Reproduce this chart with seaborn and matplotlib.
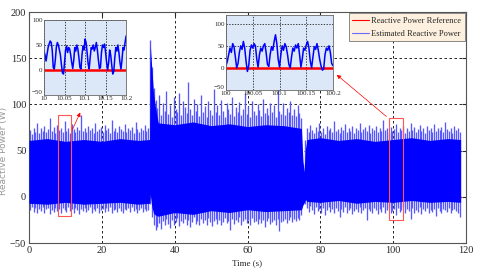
import numpy as np
import pandas as pd
import matplotlib
matplotlib.use('Agg')
import matplotlib.pyplot as plt
import seaborn as sns
from matplotlib.patches import Rectangle
from matplotlib.lines import Line2D

sns.set_style('white')
plt.rcParams['font.family'] = ['Liberation Serif', 'DejaVu Serif']

# dark core of the estimated reactive power (envelope breakpoints)
t_core = [0, 5, 10, 15, 20, 25, 30, 33.1, 33.3, 33.7, 34.2, 34.8, 35.5, 40, 45, 50, 55, 60, 65, 70,
          74.8, 75.2, 75.5, 75.9, 76.3, 80, 85, 90, 95, 100, 105, 110, 115, 118.5]
hi_core = [61, 63, 60, 62, 60, 63, 61, 62, 165, 140, 112, 95, 80, 78, 81, 77, 79, 76, 78, 77,
           74, 40, 27, 52, 62, 64, 61, 63, 60, 62, 64, 61, 63, 62]
lo_core = [-7, -8, -6, -8, -7, -6, -8, -7, 3, -10, -18, -20, -21, -17, -19, -15, -17, -14, -16, -15,
           -14, -9, -7, -3, -5, -6, -4, -7, -5, -6, -4, -6, -5, -6]

# spikes every 0.5 s (upper / lower)
up_pk1 = [72, 68, 75, 70, 80, 69, 74, 71, 77, 70,
          73, 85, 71, 76, 69, 78, 72, 74, 70, 82,
          71, 75, 69, 79, 73, 70, 76, 72, 88, 71,
          74, 70, 77, 72, 75, 69, 80, 71, 73, 76,
          70, 78, 72, 74, 69, 83, 71, 75, 70, 77,
          73, 71, 79, 70, 74, 72, 76, 69, 81, 73,
          70, 75, 72, 78, 71, 74]
up_pk2 = [170, 140, 118, 105, 96, 110, 88, 102, 93, 115,
          90, 99, 86, 108, 95, 92, 112, 89, 104, 97,
          91, 124, 95, 88, 106, 93, 100, 87, 110, 92,
          98, 86, 104, 94, 89, 117, 92, 99, 88, 105,
          93, 86, 101, 95, 90, 108, 87, 97, 92, 103,
          88, 95, 112, 90, 98, 86, 104, 93, 89, 100,
          94, 87, 106, 91, 96, 88, 102, 92, 99, 86,
          118, 93, 90, 101, 88, 96, 92, 104, 89, 95,
          87, 99, 91, 85]
up_pk3 = [35, 62, 74, 70, 78, 72, 69, 76, 71, 80,
          70, 74, 68, 77, 72, 75, 70, 82, 71, 73,
          69, 76, 72, 79, 70, 74, 71, 77, 69, 75,
          72, 80, 70, 73, 76, 71, 78, 69, 74, 72,
          77, 70, 75, 71, 83, 72, 74, 69, 76, 71,
          73, 79, 70, 75, 72, 77, 69, 74, 71, 80,
          72, 76, 70, 73, 78, 71, 74, 69, 77, 72,
          75, 70, 79, 71, 74, 72, 76, 70, 81, 73,
          71, 75, 69, 77, 72, 74, 70]
lo_pk1 = [-14, -11, -16, -12, -18, -13, -15, -11, -17, -13,
          -12, -19, -14, -16, -12, -15, -13, -18, -12, -14,
          -16, -11, -15, -13, -17, -12, -14, -19, -13, -15,
          -12, -16, -14, -11, -17, -13, -15, -12, -18, -14,
          -13, -16, -12, -15, -11, -17, -14, -13, -16, -12,
          -15, -18, -13, -14, -12, -16, -11, -15, -13, -17,
          -14, -12, -16, -13, -15, -14]
lo_pk2 = [-8, -22, -30, -36, -33, -28, -35, -26, -31, -24,
          -29, -34, -25, -30, -27, -23, -32, -26, -28, -24,
          -30, -25, -33, -27, -22, -29, -26, -31, -24, -28,
          -25, -30, -23, -27, -32, -26, -24, -29, -25, -31,
          -27, -23, -28, -26, -36, -24, -29, -25, -27, -22,
          -30, -26, -24, -28, -25, -31, -23, -27, -26, -29,
          -24, -28, -25, -33, -26, -23, -29, -27, -25, -30,
          -24, -37, -27, -26, -24, -28, -25, -22, -27, -24,
          -26, -23, -25, -20]
lo_pk3 = [5, -8, -12, -16, -10, -14, -19, -11, -15, -13,
          -17, -12, -20, -14, -11, -16, -13, -18, -12, -15,
          -22, -13, -16, -11, -17, -14, -12, -19, -15, -13,
          -16, -11, -18, -14, -12, -25, -13, -15, -17, -12,
          -14, -19, -13, -16, -11, -18, -14, -12, -17, -15,
          -13, -20, -12, -16, -14, -11, -18, -13, -15, -24,
          -12, -17, -14, -16, -11, -19, -13, -15, -12, -18,
          -14, -16, -13, -21, -12, -15, -17, -13, -14, -16,
          -12, -18, -14, -13, -15, -17, -22]
t_pk = np.arange(0.25, 118.5, 0.5)
up_pk = up_pk1 + up_pk2 + up_pk3
lo_pk = lo_pk1 + lo_pk2 + lo_pk3

ref_t = [0, 118.5]
ref_val = [0, 0]

# zoomed windows
t_in1 = np.linspace(10.0, 10.2, 81)
q_in1 = [37, 30, 18, 32, 45, 52, 58, 55, 40, 5,
         2, 20, 45, 55, 50, 40, 30, 10, -6, -8,
         15, 40, 48, 35, 45, 42, 30, 15, 3, 20,
         45, 38, 50, 42, 25, 5, 2, 30, 48, 40,
         62, 55, 35, 12, 2, 25, 45, 42, 50, 38,
         45, 55, 40, 20, 3, 5, 35, 50, 45, 52,
         35, 15, 0, 15, 40, 30, 10, -8, -3, 25,
         45, 38, 50, 35, 15, 2, 20, 45, 40, 55, 68]
t_in2 = np.linspace(100.0, 100.2, 81)
q_in2 = [5, 15, 30, 45, 35, 55, 48, 25, 0, 10,
         35, 50, 42, 60, 45, 15, -8, 5, 40, 52,
         45, 55, 50, 20, 2, 30, 45, 38, 50, 55,
         35, 8, 3, 30, 48, 40, 60, 75, 55, 20,
         2, 30, 50, 40, 55, 48, 30, 8, 0, 25,
         45, 38, 52, 45, 55, 30, 2, 20, 45, 40,
         52, 60, 45, 15, 0, 25, 48, 42, 55, 40,
         20, 5, -5, -3, 30, 45, 40, 50, 35, 10, 5]

fig = plt.figure(figsize=(4.8, 2.71), dpi=100)
ax = fig.add_axes([0.0604, 0.1033, 0.9106, 0.8524])

ax.grid(True, color='black', linestyle=(0, (3, 3)), linewidth=0.6)
ax.set_axisbelow(True)
sns.lineplot(x=ref_t, y=ref_val, color='red', lw=1.0, ax=ax, zorder=1)
ax.vlines(t_pk, lo_pk, up_pk, colors='#5858ff', lw=0.95, zorder=2)
ax.fill_between(t_core, lo_core, hi_core, color='blue', lw=0, zorder=3)

ax.set_xlim(0, 120)
ax.set_ylim(-50, 200)
ax.set_xticks(range(0, 121, 20))
ax.set_yticks(range(-50, 201, 50))
ax.tick_params(direction='in', length=3, labelsize=7.5, top=True, right=True, pad=2)
for s in ax.spines.values():
    s.set_color('#555555')
    s.set_linewidth(0.8)
ax.set_xlabel('Time (s)', fontsize=6.5, labelpad=3)
ax.set_ylabel('Reactive Power (W)', fontsize=6.5, color='#999999', family=['DejaVu Sans'])
ax.yaxis.set_label_coords(-0.048, 0.4)

ax.add_patch(Rectangle((8, -21), 3.6, 109, fill=False, ec='#ff5555', lw=0.8, zorder=5))
ax.add_patch(Rectangle((98.8, -25), 3.8, 110, fill=False, ec='#ff5555', lw=0.8, zorder=5))
ax.annotate('', xy=(14.4, 94), xytext=(11.6, 70),
            arrowprops=dict(arrowstyle='-|>', color='red', lw=0.5, mutation_scale=6), zorder=6)
ax.annotate('', xy=(83.9, 134), xytext=(98.7, 85),
            arrowprops=dict(arrowstyle='-|>', color='red', lw=0.5, mutation_scale=6), zorder=6)

handles = [Line2D([], [], color='red', lw=0.8), Line2D([], [], color='#6a6aff', lw=0.8)]
leg = ax.legend(handles, ['Reactive Power Reference', 'Estimated Reactive Power'],
                loc='upper right', fontsize=6, fancybox=False, framealpha=1,
                borderaxespad=0.15, handlelength=2.0, handletextpad=0.3, labelspacing=0.6)
leg.get_frame().set_facecolor('#fdf0de')
leg.get_frame().set_edgecolor('#777777')
leg.get_frame().set_linewidth(0.6)


def inset(rect, t, q, x0, ylim, xticks, xlabels):
    a = fig.add_axes(rect)
    a.set_facecolor('#dce8f7')
    a.grid(True, color='black', linestyle=(0, (2, 2)), linewidth=0.5)
    a.set_axisbelow(True)
    sns.lineplot(x=[x0, x0 + 0.2], y=[0, 0], color='red', lw=1.8, ax=a)
    sns.lineplot(x=t, y=q, color='blue', lw=1.1, ax=a)
    a.set_xlim(x0, x0 + 0.2)
    a.set_ylim(*ylim)
    a.set_xticks(xticks)
    a.set_xticklabels(xlabels)
    a.set_yticks([-50, 0, 50, 100])
    a.tick_params(direction='in', length=2, labelsize=5, pad=1)
    a.get_yticklabels()[0].set_va('bottom')
    for s in a.spines.values():
        s.set_color('#666666')
        s.set_linewidth(0.6)
    return a


inset([0.0917, 0.6494, 0.171, 0.2768], t_in1, q_in1, 10.0, (-50, 100),
      [10, 10.05, 10.1, 10.15, 10.2], ['10', '10.05', '10.1', '10.15', '10.2'])
inset([0.4708, 0.668, 0.223, 0.2768], t_in2, q_in2, 100.0, (-50, 120),
      [100, 100.05, 100.1, 100.15, 100.2], ['100', '100.05', '100.1', '100.15', '100.2'])

fig.savefig('out.png', dpi=100)
